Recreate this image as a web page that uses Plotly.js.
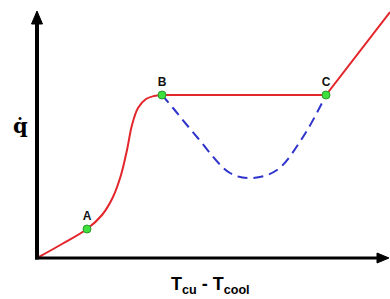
<!DOCTYPE html>
<html><head><meta charset="utf-8">
<script src="https://cdn.plot.ly/plotly-3.0.1.min.js"></script>
<style>html,body{margin:0;padding:0;background:#fff}#chart{width:390px;height:299px}</style>
</head><body><div id="chart"></div>
<script>
// Boiling-curve style sketch (arbitrary units)
const riseX = [0, 25, 50, 65, 76, 84, 90, 95, 101, 109, 117, 125];
const riseY = [0, 14, 29, 43, 61, 83, 108, 133, 150, 159, 162, 163];
const plateauX = [125, 289, 353];
const plateauY = [163, 163, 246];
const dipX = [125, 136, 160, 193, 215, 240, 266, 289];
const dipY = [163, 150, 121, 85, 80, 88, 121, 163];
const pointLabels = ['<b>A</b>', '<b>B</b>', '<b>C</b>'];
const pointX = [50, 125, 289];
const pointY = [29, 163, 163];

const red = '#e3262b';
const traces = [
  {x: riseX, y: riseY, mode: 'lines', line: {color: red, width: 2, shape: 'spline', smoothing: 1}, hoverinfo: 'skip'},
  {x: plateauX, y: plateauY, mode: 'lines', line: {color: red, width: 2}, hoverinfo: 'skip'},
  {x: dipX, y: dipY, mode: 'lines', line: {color: '#2e33cc', width: 2, dash: '10px,6px', shape: 'spline', smoothing: 1}, hoverinfo: 'skip'},
  {x: pointX, y: pointY, mode: 'markers+text', text: pointLabels, textposition: 'top center',
   textfont: {family: 'Liberation Sans, Arial', size: 12, color: '#111'},
   marker: {color: '#3ee03e', size: 8, line: {color: '#2a9a2a', width: 1}}, hoverinfo: 'skip'}
];

const layout = {
  width: 390, height: 299,
  margin: {l: 0, r: 0, t: 0, b: 0},
  paper_bgcolor: '#fff', plot_bgcolor: '#fff',
  showlegend: false,
  xaxis: {range: [-37, 353], visible: false, fixedrange: true},
  yaxis: {range: [-41, 258], visible: false, fixedrange: true},
  shapes: [
    {type: 'line', xref: 'x', yref: 'y', x0: 0, y0: -1.5, x1: 0, y1: 236, line: {color: '#000', width: 4}},
    {type: 'path', xref: 'x', yref: 'y', path: 'M -5.5 234 L 0 247 L 5.5 234 Z', fillcolor: '#000', line: {color: '#000', width: 1}},
    {type: 'line', xref: 'x', yref: 'y', x0: -2, y0: 0, x1: 342, y1: 0, line: {color: '#000', width: 3}},
    {type: 'path', xref: 'x', yref: 'y', path: 'M 340 5 L 352 0 L 340 -5 Z', fillcolor: '#000', line: {color: '#000', width: 1}}
  ],
  annotations: [
    {x: -17, y: 133, xref: 'x', yref: 'y', showarrow: false, text: '<b>q\u0307</b>',
     font: {family: 'DejaVu Serif', size: 21, color: '#000'}, xanchor: 'center', yanchor: 'middle'},
    {x: 173, y: -14, xref: 'x', yref: 'y', showarrow: false,
     text: '<b>T<sub>cu</sub> - T<sub>cool</sub></b>',
     font: {family: 'Liberation Sans, Arial', size: 18, color: '#000'}, xanchor: 'center', yanchor: 'top'}
  ]
};

Plotly.newPlot('chart', traces, layout, {displayModeBar: false, staticPlot: true});
</script></body></html>
